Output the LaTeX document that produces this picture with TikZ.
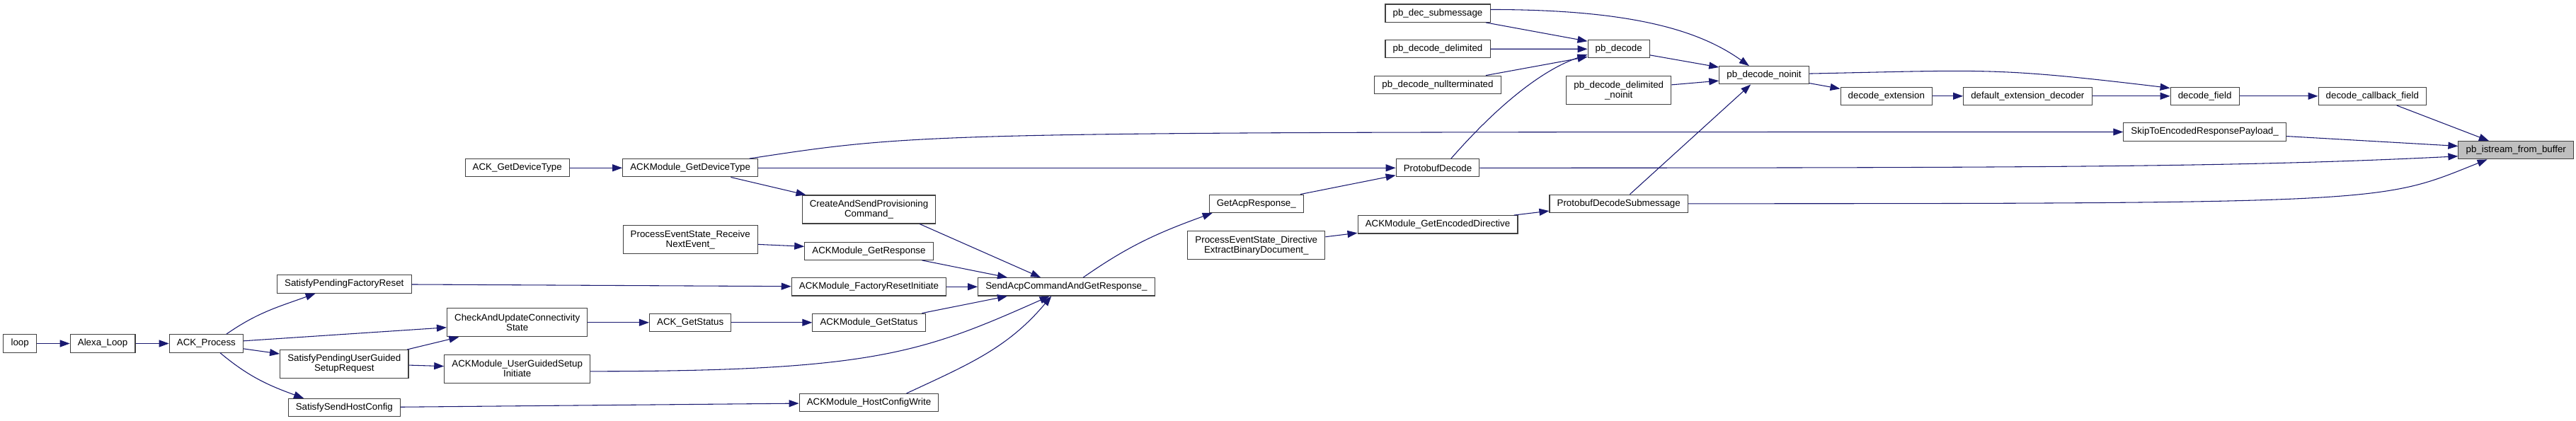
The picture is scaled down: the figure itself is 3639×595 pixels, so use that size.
\documentclass[tikz,border=0pt]{standalone}
\usepackage{fontspec}
\setmainfont{Liberation Sans}
\usetikzlibrary{arrows.meta}
\definecolor{edgeblue}{HTML}{191970}
\definecolor{boxline}{HTML}{404040}
\definecolor{hilite}{HTML}{BFBFBF}
\begin{document}
\begin{tikzpicture}[x=0.75pt, y=-0.75pt,
        fn/.style={draw=boxline, line width=0.8pt, fill=white, inner xsep=8pt, inner ysep=1pt, minimum height=19pt, font=\fontsize{10}{10.5}\selectfont, align=center},
        fn2/.style={fn, minimum height=30pt},
        call/.style={draw=edgeblue, line width=0.8pt, -{Triangle[length=10.5pt, width=7.5pt]}}]
        \useasboundingbox (0,0) rectangle (3639,595);
        \node[fn] (loop) at (28.2,485.5) {loop};
        \node[fn] (alexaloop) at (145.1,485.5) {Alexa\_Loop};
        \node[fn] (ackprocess) at (291.4,485.5) {ACK\_Process};
        \node[fn] (pendreset) at (486.3,401.5) {SatisfyPendingFactoryReset};
        \node[fn2] (pendsetup) at (486.3,514.5) {SatisfyPendingUserGuided\\SetupRequest};
        \node[fn] (sendhostcfg) at (486.3,576) {SatisfySendHostConfig};
        \node[fn] (ackdevtype) at (730.7,237.3) {ACK\_GetDeviceType};
        \node[fn2] (checkconn) at (730.7,455.8) {CheckAndUpdateConnectivity\\State};
        \node[fn2] (setupinit) at (730.7,521.2) {ACKModule\_UserGuidedSetup\\Initiate};
        \node[fn] (moddevtype) at (975.2,237.3) {ACKModule\_GetDeviceType};
        \node[fn2] (recvevent) at (975.2,338.7) {ProcessEventState\_Receive\\NextEvent\_};
        \node[fn] (ackstatus) at (975.2,455.8) {ACK\_GetStatus};
        \node[fn2] (createprov) at (1227.5,296) {CreateAndSendProvisioning\\Command\_};
        \node[fn] (modresponse) at (1227.5,354.7) {ACKModule\_GetResponse};
        \node[fn] (modreset) at (1227.5,405.3) {ACKModule\_FactoryResetInitiate};
        \node[fn] (modstatus) at (1227.5,455.8) {ACKModule\_GetStatus};
        \node[fn] (modhostcfg) at (1227.5,569.2) {ACKModule\_HostConfigWrite};
        \node[fn] (sendacp) at (1506.4,405.3) {SendAcpCommandAndGetResponse\_};
        \node[fn] (getacp) at (1774.8,287.8) {GetAcpResponse\_};
        \node[fn2] (extractdoc) at (1774.8,346.7) {ProcessEventState\_Directive\\ExtractBinaryDocument\_};
        \node[fn] (decsub) at (2031,18.7) {pb\_dec\_submessage};
        \node[fn] (decdelim) at (2031,69.2) {pb\_decode\_delimited};
        \node[fn] (decnull) at (2031,119.8) {pb\_decode\_nullterminated};
        \node[fn] (protodec) at (2031,237.3) {ProtobufDecode};
        \node[fn] (encdirective) at (2031,317.3) {ACKModule\_GetEncodedDirective};
        \node[fn] (pbdecode) at (2286.7,69.3) {pb\_decode};
        \node[fn2] (delimnoinit) at (2286.7,127.7) {pb\_decode\_delimited\\\_noinit};
        \node[fn] (protosub) at (2286.7,287.8) {ProtobufDecodeSubmessage};
        \node[fn] (noinit) at (2492,106.3) {pb\_decode\_noinit};
        \node[fn] (decext) at (2664.8,135.8) {decode\_extension};
        \node[fn] (defext) at (2864.3,135.8) {default\_extension\_decoder};
        \node[fn] (decfield) at (3114.6,135.8) {decode\_field};
        \node[fn] (skipto) at (3114.6,186.5) {SkipToEncodedResponsePayload\_};
        \node[fn] (callback) at (3351.3,135.8) {decode\_callback\_field};
        \node[fn, fill=hilite] (istream) at (3554.2,212.2) {pb\_istream\_from\_buffer};
        \draw[call] (loop) -- (alexaloop);
        \draw[call] (alexaloop) -- (ackprocess);
        \draw[call] (ackprocess.25) to[out=35,in=200] (pendreset.198);
        \draw[call] (ackprocess.4) -- (checkconn.184);
        \draw[call] (ackprocess.-8) -- (pendsetup.171);
        \draw[call] (ackprocess.-34) to[out=-40,in=160] (sendhostcfg.167);
        \draw[call] (pendreset) -- (modreset);
        \draw[call] (pendsetup.13) -- (checkconn.194);
        \draw[call] (pendsetup.-1) -- (setupinit.178);
        \draw[call] (sendhostcfg) -- (modhostcfg);
        \draw[call] (ackdevtype) -- (moddevtype);
        \draw[call] (moddevtype.-13) -- (createprov.167);
        \draw[call] (moddevtype) -- (protodec);
        \draw[call] (moddevtype.9) .. controls +(250,-38) and +(-1700,0) .. (skipto.west);
        \draw[call] (recvevent.-4) -- (modresponse.176);
        \draw[call] (checkconn) -- (ackstatus);
        \draw[call] (ackstatus) -- (modstatus);
        \draw[call] (setupinit.-2) .. controls +(400,0) and +(-180,80) .. (sendacp.-151);
        \draw[call] (createprov.-16) -- (sendacp.160);
        \draw[call] (modresponse.-10) -- (sendacp.171);
        \draw[call] (modreset) -- (sendacp);
        \draw[call] (modstatus.10) -- (sendacp.189);
        \draw[call] (modhostcfg.14) to[out=25,in=-130] (sendacp.-148);
        \draw[call] (sendacp.29) to[out=35,in=200] (getacp.192);
        \draw[call] (getacp.12) -- (protodec.190);
        \draw[call] (extractdoc.7) -- (encdirective.186);
        \draw[call] (encdirective.7) -- (protosub.186);
        \draw[call] (decsub.-11) -- (pbdecode.166);
        \draw[call] (decdelim) -- (pbdecode);
        \draw[call] (decnull.11) -- (pbdecode.194);
        \draw[call] (protodec.35) .. controls +(70,-80) and +(-60,20) .. (pbdecode.190);
        \draw[call] (decsub.4) .. controls +(200,0) and +(-70,-50) .. (noinit.148);
        \draw[call] (pbdecode.-11) -- (noinit.170);
        \draw[call] (delimnoinit.6) -- (noinit.187);
        \draw[call] (protosub.40) -- (noinit.-145);
        \draw[call] (protodec.east) .. controls +(800,0) and +(-300,15) .. (istream.186);
        \draw[call] (protosub.east) .. controls +(1000,0) and +(-150,60) .. (istream.198);
        \draw[call] (noinit.-10) -- (decext.171);
        \draw[call] (noinit.2) .. controls +(250,-5) and +(-250,-30) .. (decfield.167);
        \draw[call] (decext) -- (defext);
        \draw[call] (defext) -- (decfield);
        \draw[call] (decfield) -- (callback);
        \draw[call] (callback.-21) -- (istream.161);
        \draw[call] (skipto.-3) -- (istream.176);
\end{tikzpicture}
\end{document}
